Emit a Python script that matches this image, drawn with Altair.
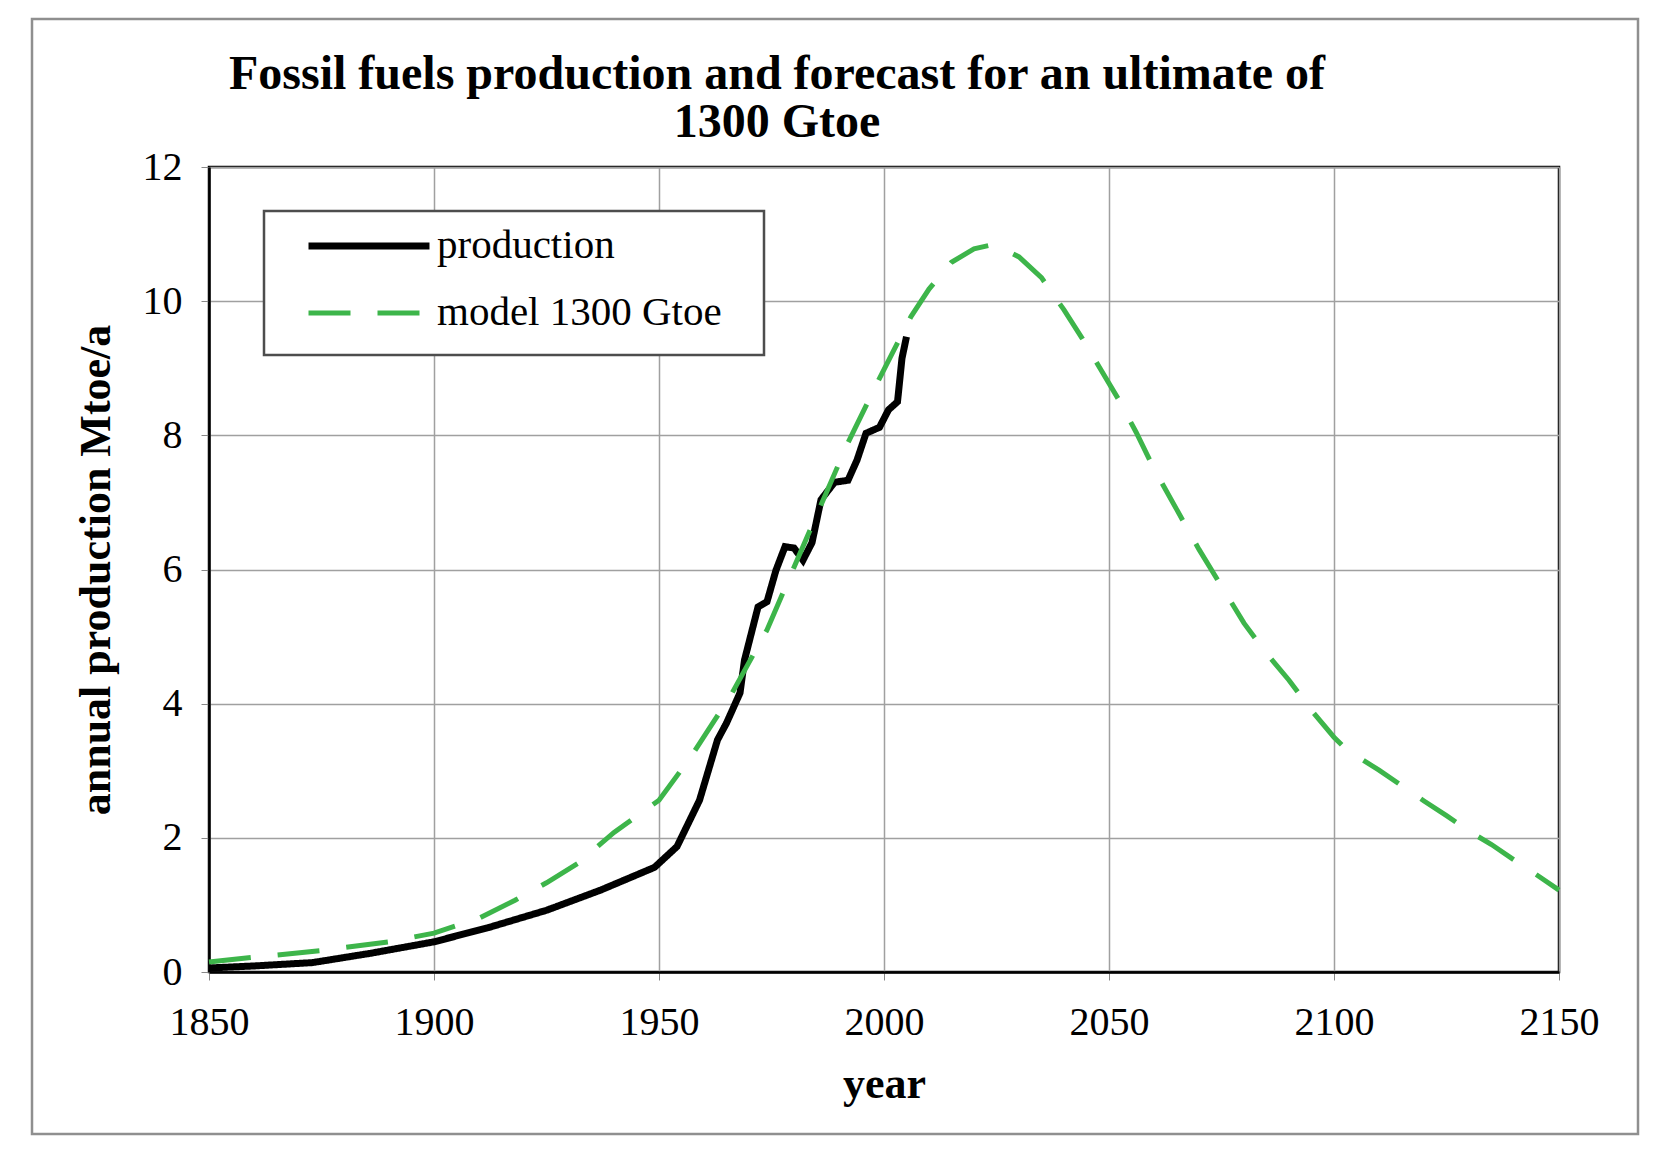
import altair as alt
import pandas as pd

# ---------------- data ----------------
SERIES = ["production", "model 1300 Gtoe"]

prod_years = [1850, 1860, 1873, 1886, 1900, 1912, 1925, 1937, 1949, 1954, 1959,
              1963, 1965, 1968, 1969, 1972, 1974, 1976, 1978, 1980, 1982, 1984,
              1986, 1989, 1992, 1994, 1996, 1999, 2001, 2003, 2004, 2005]
prod_values = [0.06, 0.09, 0.14, 0.28, 0.45, 0.66, 0.92, 1.22, 1.56, 1.87, 2.56,
               3.46, 3.71, 4.16, 4.65, 5.44, 5.52, 5.99, 6.34, 6.32, 6.14, 6.40,
               7.04, 7.30, 7.33, 7.63, 8.03, 8.12, 8.38, 8.50, 9.15, 9.47]

model_years = [1850, 1860, 1875, 1890, 1900, 1910, 1918, 1925, 1932, 1940, 1950,
               1957, 1966, 1974, 1983, 1992, 1999, 2006, 2010, 2015, 2020, 2024,
               2027, 2030, 2035, 2040, 2044, 2048, 2052, 2056, 2060, 2065, 2070,
               2075, 2080, 2085, 2090, 2095, 2100, 2103, 2110, 2115, 2120, 2125,
               2130, 2135, 2140, 2145, 2150]
model_values = [0.15, 0.22, 0.32, 0.45, 0.58, 0.80, 1.07, 1.33, 1.62, 2.08, 2.56,
                3.20, 4.13, 5.10, 6.50, 7.89, 8.85, 9.77, 10.18, 10.58, 10.78, 10.84,
                10.76, 10.66, 10.35, 9.87, 9.45, 9.00, 8.55, 8.05, 7.50, 6.90, 6.30,
                5.75, 5.20, 4.75, 4.35, 3.90, 3.50, 3.30, 3.01, 2.78, 2.55, 2.33,
                2.10, 1.90, 1.67, 1.45, 1.22]

x_ticks = [1850, 1900, 1950, 2000, 2050, 2100, 2150]
y_ticks = [0, 2, 4, 6, 8, 10, 12]

TITLE = ["Fossil fuels production and forecast for an ultimate of", "1300 Gtoe"]
X_TITLE = "year"
Y_TITLE = "annual production Mtoe/a"

df = pd.concat([
    pd.DataFrame({"year": prod_years, "value": prod_values, "series": SERIES[0]}),
    pd.DataFrame({"year": model_years, "value": model_values, "series": SERIES[1]}),
], ignore_index=True)

# ---------------- styling ----------------
W, H = 1350, 805
SERIF = "Liberation Serif"
GREEN = "#3db54a"

legend = alt.Legend(
    title=None, orient="none", legendX=96, legendY=58.5,
    symbolType="stroke", symbolSize=14641,
    labelFont=SERIF, labelFontSize=41, labelColor="black",
    labelOffset=4, labelLimit=600, clipHeight=41, rowPadding=25, padding=0,
)

color = alt.Color("series:N", scale=alt.Scale(domain=SERIES, range=["black", GREEN]),
                  legend=legend)
dash = alt.StrokeDash("series:N", scale=alt.Scale(domain=SERIES, range=[[1, 0], [42, 27]]),
                      legend=legend)
swidth = alt.StrokeWidth("series:N", scale=alt.Scale(domain=SERIES, range=[7, 5]),
                         legend=legend)

x_enc = alt.X("year:Q",
              scale=alt.Scale(domain=[1850, 2150], nice=False, zero=False),
              axis=alt.Axis(values=x_ticks, format="d", title=X_TITLE,
                            titleFont=SERIF, titleFontSize=44, titleFontWeight="bold",
                            titleColor="black", titleY=125, titleBaseline="alphabetic",
                            labelFont=SERIF, labelFontSize=40, labelColor="black",
                            labelPadding=22, tickSize=8, tickColor="#888888",
                            labelFlush=False, labelOverlap=False,
                            grid=True, gridColor="#a0a0a0", gridWidth=1.5,
                            domainColor="black", domainWidth=2.5))
y_enc = alt.Y("value:Q",
              scale=alt.Scale(domain=[0, 12], nice=False),
              axis=alt.Axis(values=y_ticks, title=Y_TITLE,
                            titleFont=SERIF, titleFontSize=44, titleFontWeight="bold",
                            titleColor="black", titleX=-100, titleY=H / 2,
                            titleAngle=270, titleBaseline="alphabetic",
                            labelFont=SERIF, labelFontSize=40, labelColor="black",
                            labelPadding=19, tickSize=8, tickColor="#888888",
                            grid=True, gridColor="#a0a0a0", gridWidth=1.5,
                            domainColor="black", domainWidth=2.5))

base = alt.Chart(df).encode(x=x_enc, y=y_enc, color=color, strokeDash=dash,
                            strokeWidth=swidth)

prod_line = base.transform_filter(alt.datum.series == SERIES[0]).mark_line()
model_line = base.transform_filter(alt.datum.series == SERIES[1]).mark_line()

deco = pd.DataFrame({"k": [0]})
frame = alt.Chart(deco).mark_rect(filled=False, stroke="#8f8f8f", strokeWidth=2.5,
                                  clip=False).encode(
    x=alt.value(-177), x2=alt.value(1429), y=alt.value(-148), y2=alt.value(967))
legend_box = alt.Chart(deco).mark_rect(fill="white", stroke="#4d4d4d",
                                       strokeWidth=2.5).encode(
    x=alt.value(55), x2=alt.value(555), y=alt.value(44), y2=alt.value(188))

chart = alt.layer(frame, legend_box, prod_line, model_line).properties(
    width=W, height=H,
    title=alt.TitleParams(text=TITLE, anchor="middle", frame="group", dx=-107,
                          dy=149, fontSize=48, font=SERIF, fontWeight="bold",
                          color="black", lineHeight=48, offset=20),
    autosize=alt.AutoSizeParams(type="none"),
    padding={"left": 201, "top": 159, "right": 84, "bottom": 167},
    background="white",
).configure_view(stroke="black", strokeWidth=2.5)

chart.save("out.html", embed_options={"renderer": "svg", "actions": False})
